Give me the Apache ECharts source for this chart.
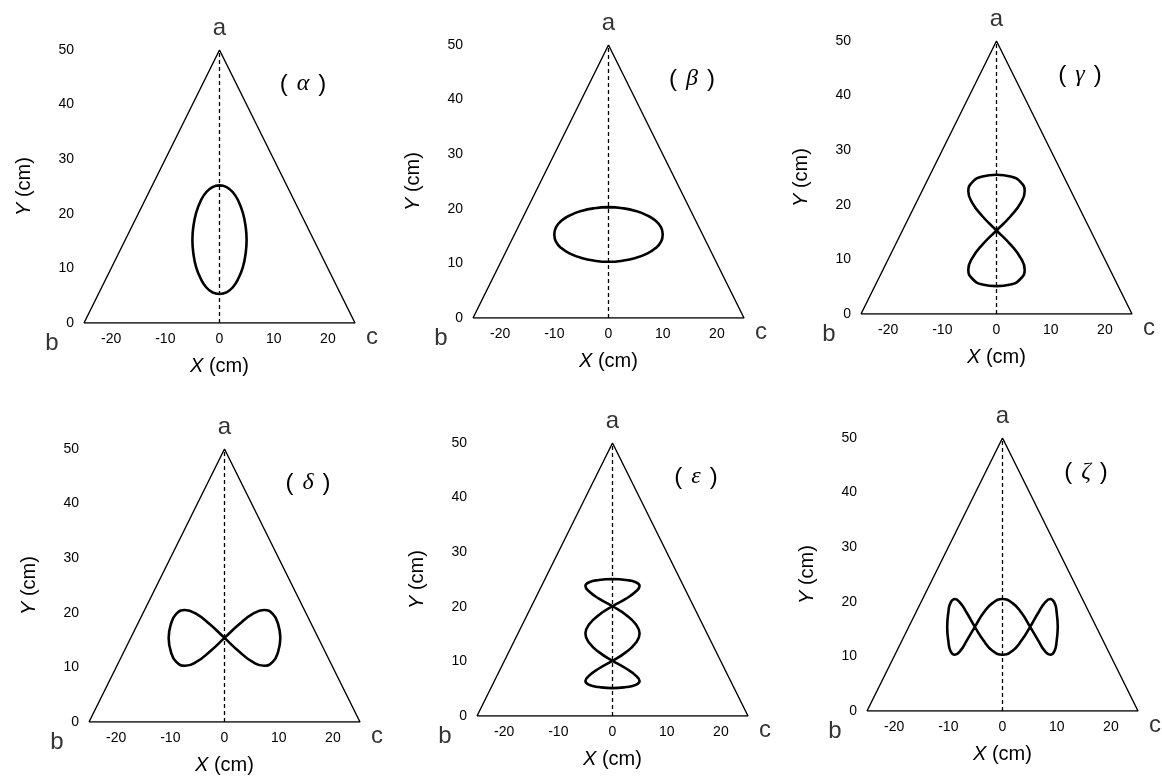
<!DOCTYPE html>
<html>
<head>
<meta charset="utf-8">
<title>Trajectories in the triangle</title>
<style>
  html, body { margin: 0; padding: 0; background: #fff; }
  #main { width: 1162px; height: 778px; }
</style>
</head>
<body>
<div id="main"></div>
<script src="https://cdn.jsdelivr.net/npm/echarts@6/dist/echarts.min.js"></script>
<script>
// --- data ---
var panelNames = ['α', 'β', 'γ', 'δ', 'ε', 'ζ'];
var xTicks = [-20, -10, 0, 10, 20];
var yTicks = [0, 10, 20, 30, 40, 50];
var triangle = [[-25, 0], [0, 50], [25, 0], [-25, 0]];
var midLine = [[0, 0], [0, 50]];
var vertexNames = ['a', 'b', 'c'];
var vertexPoints = [[0, 50], [-25, 0], [25, 0]];

var curveAlpha = [[0,25.2],[1.3,24.9],[2.5,23.9],[3.5,22.3],[4.3,20.2],[4.8,17.8],[5.0,15.2],
  [4.8,12.6],[4.3,10.2],[3.5,8.2],[2.5,6.6],[1.3,5.6],[0,5.3],[-1.3,5.6],[-2.5,6.6],[-3.5,8.2],
  [-4.3,10.2],[-4.8,12.6],[-5.0,15.2],[-4.8,17.8],[-4.3,20.2],[-3.5,22.3],[-2.5,23.9],[-1.3,24.9],[0,25.2]];

var curveBeta = [[0,20.3],[2.6,20.1],[5.0,19.6],[7.1,18.8],[8.7,17.8],[9.7,16.6],[10.0,15.3],
  [9.7,14.0],[8.7,12.8],[7.1,11.8],[5.0,11.0],[2.6,10.5],[0,10.3],[-2.6,10.5],[-5.0,11.0],[-7.1,11.8],
  [-8.7,12.8],[-9.7,14.0],[-10.0,15.3],[-9.7,16.6],[-8.7,17.8],[-7.1,18.8],[-5.0,19.6],[-2.6,20.1],[0,20.3]];

var curveGamma = [[0,25.5],[2.6,25.2],[4.5,24.1],[5.2,22.5],[4.5,20.4],[2.6,17.9],[0,15.3],
  [-2.6,12.7],[-4.5,10.2],[-5.2,8.1],[-4.5,6.5],[-2.6,5.4],[0,5.1],[2.6,5.4],[4.5,6.5],[5.2,8.1],
  [4.5,10.2],[2.6,12.7],[0,15.3],[-2.6,17.9],[-4.5,20.4],[-5.2,22.5],[-4.5,24.1],[-2.6,25.2],[0,25.5]];

var curveDelta = [[10.3,15.4],[9.9,17.9],[8.9,19.8],[7.3,20.5],[5.2,19.8],[2.7,17.9],[0,15.4],
  [-2.7,12.9],[-5.2,11.0],[-7.3,10.3],[-8.9,11.0],[-9.9,12.9],[-10.3,15.4],[-9.9,17.9],[-8.9,19.8],
  [-7.3,20.5],[-5.2,19.8],[-2.7,17.9],[0,15.4],[2.7,12.9],[5.2,11.0],[7.3,10.3],[8.9,11.0],[9.9,12.9],[10.3,15.4]];

var curveEpsilon = [[0,25.1],[2.5,24.9],[4.3,24.5],[5.0,23.8],[4.3,22.8],[2.5,21.5],[0,20.1],
  [-2.5,18.5],[-4.3,16.8],[-5.0,15.1],[-4.3,13.4],[-2.5,11.7],[0,10.1],[2.5,8.7],[4.3,7.4],[5.0,6.4],
  [4.3,5.7],[2.5,5.3],[0,5.1],[-2.5,5.3],[-4.3,5.7],[-5.0,6.4],[-4.3,7.4],[-2.5,8.7],[0,10.1],
  [2.5,11.7],[4.3,13.4],[5.0,15.1],[4.3,16.8],[2.5,18.5],[0,20.1],[-2.5,21.5],[-4.3,22.8],[-5.0,23.8],
  [-4.3,24.5],[-2.5,24.9],[0,25.1]];

var curveZeta = [[10.2,15.4],[10.0,18.0],[9.6,19.8],[8.8,20.5],[7.8,19.8],[6.6,18.0],[5.1,15.4],
  [3.5,12.9],[1.8,11.0],[0,10.3],[-1.8,11.0],[-3.5,12.9],[-5.1,15.4],[-6.6,18.0],[-7.8,19.8],[-8.8,20.5],
  [-9.6,19.8],[-10.0,18.0],[-10.2,15.4],[-10.0,12.9],[-9.6,11.0],[-8.8,10.3],[-7.8,11.0],[-6.6,12.9],
  [-5.1,15.4],[-3.5,18.0],[-1.8,19.8],[0,20.5],[1.8,19.8],[3.5,18.0],[5.1,15.4],[6.6,12.9],[7.8,11.0],
  [8.8,10.3],[9.6,11.0],[10.0,12.9],[10.2,15.4]];

var curves = [curveAlpha, curveBeta, curveGamma, curveDelta, curveEpsilon, curveZeta];

// --- layout ---
var gridPos = [
  { left: 84, top: 50 }, { left: 473, top: 45 }, { left: 861, top: 41 },
  { left: 89, top: 449 }, { left: 477, top: 443 }, { left: 867, top: 438 }
];
var gridW = 271, gridH = 273;
var font = 'Liberation Sans';
var ink = '#000';
var vertexOffsets = [[0, -22], [-32, 20], [17, 14]];

var grids = [], xAxes = [], yAxes = [], series = [], graphics = [];

gridPos.forEach(function (p, i) {
  grids.push({ left: p.left, top: p.top, width: gridW, height: gridH });

  xAxes.push({
    type: 'value', gridIndex: i, min: -25, max: 25,
    axisLine: { show: false }, axisTick: { show: false }, splitLine: { show: false },
    axisLabel: {
      margin: 9, fontSize: 14, color: ink, fontFamily: font,
      formatter: function (v) { return xTicks.indexOf(v) >= 0 ? String(v) : ''; }
    },
    name: '{i|X} (cm)', nameLocation: 'middle', nameGap: 33,
    nameTextStyle: {
      fontSize: 20, color: ink, fontFamily: font,
      rich: { i: { fontSize: 20, fontStyle: 'italic', fontFamily: font, color: ink } }
    }
  });

  yAxes.push({
    type: 'value', gridIndex: i, min: 0, max: 50, interval: 10,
    axisLine: { show: false }, axisTick: { show: false }, splitLine: { show: false },
    axisLabel: {
      margin: 10, fontSize: 14, color: ink, fontFamily: font,
      formatter: function (v) { return yTicks.indexOf(v) >= 0 ? String(v) : ''; }
    },
    name: '{i|Y} (cm)', nameLocation: 'middle', nameGap: 50, nameRotate: 90,
    nameTextStyle: {
      fontSize: 20, color: ink, fontFamily: font,
      rich: { i: { fontSize: 20, fontStyle: 'italic', fontFamily: font, color: ink } }
    }
  });

  series.push({
    type: 'line', xAxisIndex: i, yAxisIndex: i, data: triangle,
    symbol: 'none', silent: true, animation: false,
    lineStyle: { color: ink, width: 1.4 }
  });
  series.push({
    type: 'line', xAxisIndex: i, yAxisIndex: i, data: midLine,
    symbol: 'none', silent: true, animation: false,
    lineStyle: { color: ink, width: 1.3, type: [4, 3] }
  });
  series.push({
    type: 'line', xAxisIndex: i, yAxisIndex: i, data: curves[i],
    symbol: 'none', smooth: 0.5, silent: true, animation: false,
    lineStyle: { color: ink, width: 2.6 }
  });
  series.push({
    type: 'scatter', xAxisIndex: i, yAxisIndex: i, silent: true, animation: false,
    symbolSize: 1, itemStyle: { color: 'rgba(0,0,0,0)' },
    data: vertexPoints.map(function (pt, k) {
      return {
        value: pt,
        label: {
          show: true, position: 'inside', offset: vertexOffsets[k],
          formatter: vertexNames[k], fontSize: 24, color: ink, fontFamily: font
        }
      };
    })
  });

  graphics.push({
    type: 'text', x: p.left + 219, y: p.top + 34, silent: true,
    style: {
      text: '{p|(}{g|' + panelNames[i] + '}{p|)}',
      align: 'center', verticalAlign: 'middle',
      rich: {
        p: { fontSize: 24, fontFamily: font, fill: ink },
        g: { fontSize: 24, fontFamily: 'Liberation Serif', fontStyle: 'italic', fill: ink, padding: [0, 9] }
      }
    }
  });
});

var myChart = echarts.init(document.getElementById('main'));
myChart.setOption({
  backgroundColor: '#fff',
  animation: false,
  grid: grids,
  xAxis: xAxes,
  yAxis: yAxes,
  series: series,
  graphic: graphics
});
</script>
</body>
</html>
